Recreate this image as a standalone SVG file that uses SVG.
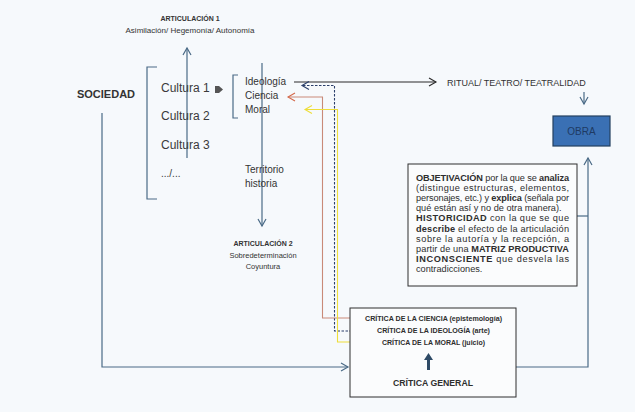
<svg xmlns="http://www.w3.org/2000/svg" width="635" height="412" viewBox="0 0 635 412">
<defs>
<style>
text{font-family:"Liberation Sans",Arial,sans-serif;fill:#333}
.b{font-weight:bold}
.ln{fill:none;stroke:#4a6a86;stroke-width:1.2}
.bk{fill:none;stroke:#2a2a2a;stroke-width:1.1}
.box{fill:#fbfcfd;stroke:#2f2f2f;stroke-width:1}
.sm{font-size:7px}
.md{font-size:10px}
.cu{font-size:12px;fill:#3a3a3a}
.p{font-size:9.2px;fill:#2e2e2e}
.cr{font-size:7px;font-weight:bold;fill:#2e2e2e}
</style>
<marker id="aBlue" markerUnits="userSpaceOnUse" markerWidth="12" markerHeight="12" refX="8" refY="5" orient="auto"><path d="M1,1 L8,5 L1,9" fill="none" stroke="#4a6a86" stroke-width="1.2"/></marker>
<marker id="aBlack" markerUnits="userSpaceOnUse" markerWidth="12" markerHeight="12" refX="8" refY="5" orient="auto"><path d="M1,1 L8,5 L1,9" fill="none" stroke="#2a2a2a" stroke-width="1.1"/></marker>
<marker id="aNavy" markerUnits="userSpaceOnUse" markerWidth="12" markerHeight="12" refX="8" refY="5" orient="auto"><path d="M1,1 L8,5 L1,9" fill="none" stroke="#2b3f6b" stroke-width="1.1"/></marker>
<marker id="aRed" markerUnits="userSpaceOnUse" markerWidth="12" markerHeight="12" refX="8" refY="5" orient="auto"><path d="M1,1 L8,5 L1,9" fill="none" stroke="#d4694a" stroke-width="1.1"/></marker>
<marker id="aYel" markerUnits="userSpaceOnUse" markerWidth="12" markerHeight="12" refX="8" refY="5" orient="auto"><path d="M1,1 L8,5 L1,9" fill="none" stroke="#eede3a" stroke-width="1.1"/></marker>
</defs>
<rect width="635" height="412" fill="#f6f9fc"/>

<g id="connectors">
<path class="ln" d="M187,158 V48" marker-end="url(#aBlue)"/>
<path class="ln" d="M262,63 V226" marker-end="url(#aBlue)"/>
<path class="ln" d="M102,113 V367 H348" marker-end="url(#aBlue)"/>
<path class="bk" d="M294,82 H436" marker-end="url(#aBlack)"/>
<path class="ln" d="M584,92 V104" marker-end="url(#aBlue)"/>
<path class="ln" d="M516,367 H588 V158" marker-end="url(#aBlue)"/>
<path class="ln" d="M577,216 H588"/>
<path d="M368,331 H334.5 V85.5 H302" fill="none" stroke="#2b3f6b" stroke-width="1.1" stroke-dasharray="2.5,1.5" marker-end="url(#aNavy)"/>
<path d="M360,318 H322.5 V97 H288" fill="none" stroke="#c98a78" stroke-width="1.1" marker-end="url(#aRed)"/>
<path d="M370,342 H337.5 V109.5 H305" fill="none" stroke="#eede3a" stroke-width="1.1" marker-end="url(#aYel)"/>
</g>

<g id="articulacion1">
<text class="sm b" x="190" y="21" text-anchor="middle">ARTICULACIÓN 1</text>
<text x="190" y="33" text-anchor="middle" style="font-size:8px">Asimilación/ Hegemonía/ Autonomía</text>
</g>

<g id="sociedad">
<text class="b" x="106" y="98" text-anchor="middle" style="font-size:11px">SOCIEDAD</text>
</g>

<g id="culturas">
<path class="ln" d="M157,67 H147 V199 H157"/>
<text class="cu" x="161" y="92">Cultura 1</text>
<text class="cu" x="161" y="120">Cultura 2</text>
<text class="cu" x="161" y="149">Cultura 3</text>
<text class="cu" x="161" y="177" style="font-size:10px">.../...</text>
<polygon points="215,86 219,86 223,89.5 219,93 215,93" fill="#555"/>
</g>

<g id="ideologia">
<path class="ln" d="M238,75 H233 V118 H238"/>
<text class="md" x="245" y="85">Ideología</text>
<text class="md" x="245" y="99">Ciencia</text>
<text class="md" x="245" y="113">Moral</text>
</g>

<g id="territorio">
<text class="md" x="245" y="173">Territorio</text>
<text class="md" x="245" y="187">historia</text>
</g>

<g id="articulacion2">
<text class="sm b" x="263" y="246" text-anchor="middle">ARTICULACIÓN 2</text>
<text x="263" y="258" text-anchor="middle" style="font-size:7.5px">Sobredeterminación</text>
<text x="263" y="269" text-anchor="middle" style="font-size:7.5px">Coyuntura</text>
</g>

<g id="ritual">
<text x="447" y="85.5" style="font-size:9px">RITUAL/ TEATRO/ TEATRALIDAD</text>
</g>

<g id="obra">
<rect x="553" y="116" width="57" height="30" fill="#3a70b4" stroke="#23405f" stroke-width="1.2"/>
<text x="581.5" y="134.5" text-anchor="middle" style="font-size:10px;fill:#1e3a63">OBRA</text>
</g>

<g id="objetivacion">
<rect class="box" x="408" y="164" width="169" height="122"/>
<text class="p" x="416" y="181" textLength="153" lengthAdjust="spacing"><tspan class="b">OBJETIVACIÓN</tspan> por la que se <tspan class="b">analiza</tspan></text>
<text class="p" x="416" y="191.1" textLength="153" lengthAdjust="spacing">(distingue estructuras, elementos,</text>
<text class="p" x="416" y="201.2" textLength="153" lengthAdjust="spacing">personajes, etc.) y <tspan class="b">explica</tspan> (señala por</text>
<text class="p" x="416" y="211.3">qué están así y no de otra manera).</text>
<text class="p" x="416" y="221.4" textLength="153" lengthAdjust="spacing"><tspan class="b">HISTORICIDAD</tspan> con la que se que</text>
<text class="p" x="416" y="231.5" textLength="153" lengthAdjust="spacing"><tspan class="b">describe</tspan> el efecto de la articulación</text>
<text class="p" x="416" y="241.6" textLength="153" lengthAdjust="spacing">sobre la autoría y la recepción, a</text>
<text class="p" x="416" y="251.7" textLength="153" lengthAdjust="spacing">partir de una <tspan class="b">MATRIZ PRODUCTIVA</tspan></text>
<text class="p" x="416" y="261.8" textLength="153" lengthAdjust="spacing"><tspan class="b">INCONSCIENTE</tspan> que desvela las</text>
<text class="p" x="416" y="271.9">contradicciones.</text>
</g>

<g id="critica">
<rect class="box" x="350" y="308" width="166" height="89"/>
<text class="cr" x="365" y="321" textLength="137" lengthAdjust="spacingAndGlyphs">CRÍTICA DE LA CIENCIA (epistemología)</text>
<text class="cr" x="377" y="333" textLength="113" lengthAdjust="spacingAndGlyphs">CRÍTICA DE LA IDEOLOGÍA (arte)</text>
<text class="cr" x="382" y="344.5" textLength="103" lengthAdjust="spacingAndGlyphs">CRÍTICA DE LA MORAL (juicio)</text>
<polygon points="428.5,353 433,360 430,360 430,370 427,370 427,360 424,360" fill="#2e4a66"/>
<text class="b" x="433" y="386" text-anchor="middle" textLength="80" lengthAdjust="spacingAndGlyphs" style="font-size:9px;fill:#2e2e2e">CRÍTICA GENERAL</text>
</g>
</svg>
